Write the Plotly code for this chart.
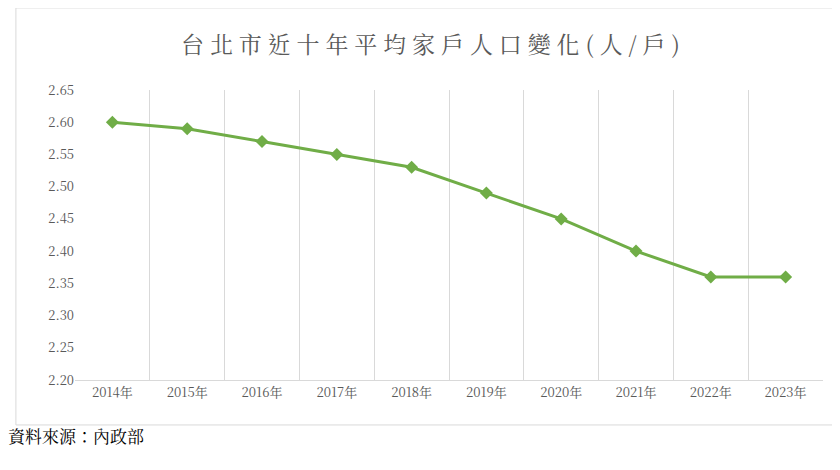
import plotly.graph_objects as go

years = ["2014年", "2015年", "2016年", "2017年", "2018年",
         "2019年", "2020年", "2021年", "2022年", "2023年"]
persons_per_household = [2.60, 2.59, 2.57, 2.55, 2.53, 2.49, 2.45, 2.40, 2.36, 2.36]
y_ticks = [2.20, 2.25, 2.30, 2.35, 2.40, 2.45, 2.50, 2.55, 2.60, 2.65]

serif = "Noto Serif CJK TC, Liberation Serif, Noto Sans CJK TC, serif"
idx = list(range(len(years)))

fig = go.Figure()
fig.add_trace(go.Scatter(
    x=idx, y=persons_per_household, mode="lines+markers",
    line=dict(color="#70AD47", width=3),
    marker=dict(symbol="diamond", size=10, color="#70AD47"),
    showlegend=False, hoverinfo="y",
))
# invisible trace for the category-boundary grid axis
fig.add_trace(go.Scatter(x=[-0.5, 9.5], y=[2.2, 2.2], xaxis="x2",
                         mode="markers", marker=dict(opacity=0),
                         showlegend=False, hoverinfo="skip"))

fig.update_layout(
    width=840, height=470,
    margin=dict(l=67, r=25, t=82, b=98),
    plot_bgcolor="white", paper_bgcolor="white",
    font=dict(family=serif, color="#595959", size=13),
    xaxis=dict(range=[-0.5, 9.5], tickvals=idx, ticktext=years,
               showgrid=False, showline=True, linecolor="#D9D9D9",
               linewidth=1, ticks="", zeroline=False),
    xaxis2=dict(range=[-0.5, 9.5], overlaying="x",
                tickvals=[i - 0.5 for i in range(11)],
                showticklabels=False, showgrid=True, gridcolor="#D9D9D9",
                ticks="", zeroline=False),
    yaxis=dict(range=[2.20, 2.65], tickvals=y_ticks,
               ticktext=[f"{v:.2f}" for v in y_ticks],
               showgrid=False, zeroline=False, showline=False, ticks=""),
    shapes=[dict(type="rect", xref="paper", yref="paper",
                 x0=-0.079, x1=1.024, y0=-0.155, y1=1.283,
                 line=dict(color="#D9D9D9", width=1))],
    annotations=[
        dict(text="台 北 市 近 十 年 平 均 家 戶 人 口 變 化 ( 人 / 戶 )",
             xref="paper", yref="paper", x=0.475, y=1.225,
             showarrow=False, font=dict(size=23, color="#595959", family=serif)),
        dict(text="資料來源：內政部", xref="paper", yref="paper",
             x=-0.092, y=-0.24, xanchor="left", showarrow=False,
             font=dict(size=17, color="#000000", family=serif)),
    ],
)

fig.write_html("out.html")
